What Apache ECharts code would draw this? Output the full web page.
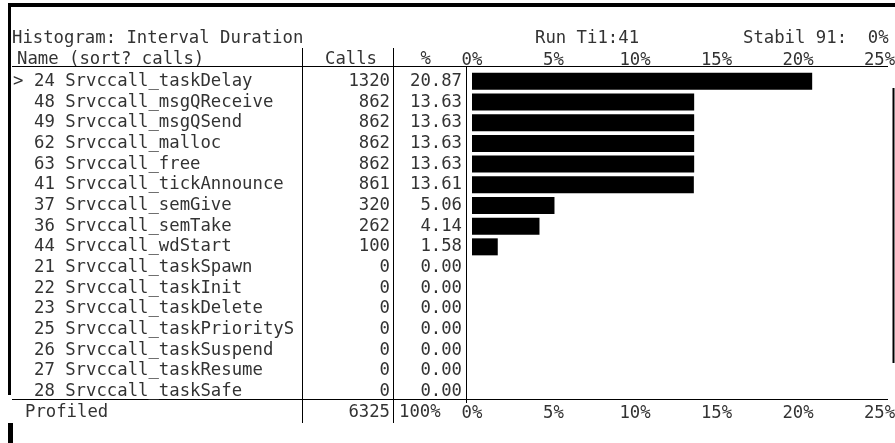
<!DOCTYPE html>
<html><head><meta charset="utf-8">
<script src="https://cdn.jsdelivr.net/npm/echarts@6/dist/echarts.min.js"></script>
<style>html,body{margin:0;padding:0;background:#fff}#c{width:895px;height:443px}</style>
</head><body><div id="c"></div><script>
// ---- data ----
const ids = [24, 48, 49, 62, 63, 41, 37, 36, 44, 21, 22, 23, 25, 26, 27, 28];
const names = ['Srvccall_taskDelay', 'Srvccall_msgQReceive', 'Srvccall_msgQSend', 'Srvccall_malloc',
  'Srvccall_free', 'Srvccall_tickAnnounce', 'Srvccall_semGive', 'Srvccall_semTake', 'Srvccall_wdStart',
  'Srvccall_taskSpawn', 'Srvccall_taskInit', 'Srvccall_taskDelete', 'Srvccall_taskPriorityS',
  'Srvccall_taskSuspend', 'Srvccall_taskResume', 'Srvccall_taskSafe'];
const calls = [1320, 862, 862, 862, 862, 861, 320, 262, 100, 0, 0, 0, 0, 0, 0, 0];
const percents = [20.87, 13.63, 13.63, 13.63, 13.63, 13.61, 5.06, 4.14, 1.58, 0, 0, 0, 0, 0, 0, 0];
const selectedRow = 0;
const totalCalls = 6325;
const totalPercentText = '100%';
const axisMin = 0, axisMax = 25, axisStep = 5;
const titleText = 'Histogram: Interval Duration';
const runText = 'Run Ti1:41';
const stabilText = 'Stabil 91:  0%';
const headerName = 'Name (sort? calls)';
const headerCalls = 'Calls';
const headerPct = '%';
const footerText = 'Profiled';

// ---- style ----
const FONT_FAMILY = '"DejaVu Sans Mono", monospace';
const FS = 17.3;
const TXT = '#333';
const font = FS + 'px ' + FONT_FAMILY;

const chart = echarts.init(document.getElementById('c'), null, {renderer: 'canvas'});

function txt(x, y, s, align) {
  return {type: 'text', x: x, y: y, silent: true,
    style: {text: s, font: font, fill: TXT, align: align || 'left', verticalAlign: 'middle'}};
}
function line(x1, y1, x2, y2, w) {
  return {type: 'line', silent: true, shape: {x1, y1, x2, y2}, style: {stroke: '#000', lineWidth: w || 1}};
}
function rect(x, y, w, h) {
  return {type: 'rect', silent: true, shape: {x, y, width: w, height: h}, style: {fill: '#000'}};
}

const option = {
  animation: false,
  backgroundColor: '#fff',
  grid: {left: 472, right: 15.5, top: 71, height: 331, outerBoundsMode: 'none', containLabel: false},
  xAxis: [
    {type: 'value', position: 'bottom', min: axisMin, max: axisMax, interval: axisStep,
      axisLine: {show: false}, axisTick: {show: false}, splitLine: {show: false},
      axisLabel: {formatter: '{value}%', margin: 3, color: TXT, fontSize: FS, fontFamily: FONT_FAMILY}},
    {type: 'value', position: 'top', min: axisMin, max: axisMax, interval: axisStep,
      axisLine: {show: false}, axisTick: {show: false}, splitLine: {show: false},
      axisLabel: {formatter: '{value}%', margin: 2, color: TXT, fontSize: FS, fontFamily: FONT_FAMILY}}
  ],
  yAxis: {
    type: 'category', inverse: true, data: ids.map((d, i) => i),
    axisLine: {show: false}, axisTick: {show: false}, splitLine: {show: false},
    axisLabel: {
      interval: 0, align: 'left', margin: 459, color: TXT, fontSize: FS, fontFamily: FONT_FAMILY,
      formatter: function (v, i) {
        return '{m|' + (i === selectedRow ? '>' : ' ') + '}{n|' + ids[i] + ' ' + names[i] + '}{c|' + calls[i] +
          '}{p|' + percents[i].toFixed(2) + '}';
      },
      rich: {
        m: {width: 21, align: 'left', fontSize: FS, fontFamily: FONT_FAMILY, color: TXT},
        n: {width: 268, align: 'left', fontSize: FS, fontFamily: FONT_FAMILY, color: TXT},
        c: {width: 88, align: 'right', fontSize: FS, fontFamily: FONT_FAMILY, color: TXT},
        p: {width: 72, align: 'right', fontSize: FS, fontFamily: FONT_FAMILY, color: TXT}
      }
    }
  },
  series: [{
    type: 'bar', xAxisIndex: 0, yAxisIndex: 0, data: percents, barWidth: 17,
    itemStyle: {color: '#000'}, silent: true
  }],
  graphic: [
    rect(8, 3, 887, 4),
    rect(8, 3, 3, 392),
    rect(8, 423, 5, 20),
    line(893.5, 88, 893.5, 363, 2),
    txt(12, 39, titleText),
    txt(535, 39, runText),
    txt(743, 39, stabilText),
    txt(17, 60, headerName),
    txt(377, 60, headerCalls, 'right'),
    txt(431, 60, headerPct, 'right'),
    line(12, 66.5, 888, 66.5),
    line(302.5, 48, 302.5, 423),
    line(393.5, 48, 393.5, 423),
    line(466.5, 67, 466.5, 403),
    line(12, 399.5, 888, 399.5),
    txt(25, 413, footerText),
    txt(390, 413, String(totalCalls), 'right'),
    txt(399, 413, totalPercentText)
  ]
};
chart.setOption(option);
</script></body></html>
